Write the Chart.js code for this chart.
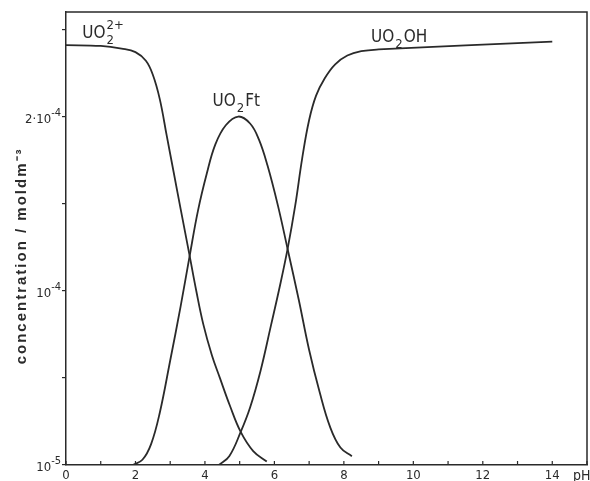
<!DOCTYPE html>
<html>
<head>
<meta charset="utf-8">
<script src="https://cdn.jsdelivr.net/npm/chart.js@4.4.1/dist/chart.umd.min.js"></script>
<style>
  body { margin: 0; background: #fff; }
  canvas { display: block; }
</style>
</head>
<body>
<canvas id="speciesChart" width="590" height="481"></canvas>
<script>
// pH / concentration (units of 1e-4 mol dm-3 on the drawn axis)
const phUO2 = [0, 1.0, 1.6, 2.0, 2.3, 2.5, 2.7, 2.9, 3.1, 3.3, 3.56, 3.75, 3.95, 4.2, 4.43, 4.72, 5.03, 5.39, 5.78];
const concUO2 = [2.41, 2.405, 2.39, 2.37, 2.32, 2.24, 2.10, 1.89, 1.68, 1.47, 1.20, 1.00, 0.81, 0.63, 0.50, 0.34, 0.19, 0.08, 0.02];

const phUO2Ft = [1.92, 2.2, 2.45, 2.7, 3.0, 3.3, 3.56, 3.8, 4.05, 4.3, 4.6, 4.96,
                 5.3, 5.55, 5.8, 6.1, 6.38, 6.7, 7.0, 7.3, 7.6, 7.9, 8.23];
const concUO2Ft = [0, 0.03, 0.12, 0.30, 0.60, 0.91, 1.20, 1.46, 1.67, 1.84, 1.95, 2.00,
                   1.96, 1.87, 1.72, 1.49, 1.24, 0.95, 0.66, 0.42, 0.22, 0.10, 0.05];

const phUO2OH = [4.40, 4.7, 5.03, 5.3, 5.6, 5.9, 6.15, 6.38, 6.6, 6.8, 7.0, 7.2, 7.45, 7.75, 8.1, 8.5, 9.0, 14];
const concUO2OH = [0.0, 0.05, 0.19, 0.33, 0.54, 0.80, 1.02, 1.24, 1.49, 1.76, 1.98, 2.12, 2.22, 2.30, 2.35, 2.375, 2.385, 2.43];

const xTicks = [0, 1, 2, 3, 4, 5, 6, 7, 8, 9, 10, 11, 12, 13, 14, 15];
const xTickLabels = ['0', '', '2', '', '4', '', '6', '', '8', '', '10', '', '12', '', '14', ''];
const yTicks = [0, 0.5, 1, 1.5, 2, 2.5];
const yTickBase = ['10', '', '10', '', '2·10', ''];
const yTickExp = ['-5', '', '-4', '', '-4', ''];

const INK = '#2a2a2a';
const FONT = '"Liberation Sans Narrow", "DejaVu Sans Condensed", "Liberation Sans", sans-serif';

function toPoints(xs, ys) {
    return xs.map((x, i) => ({ x: x, y: ys[i] }));
}

function curve(data) {
    return {
        data: data,
        borderColor: INK,
        borderWidth: 1.8,
        pointRadius: 0,
        fill: false,
        tension: 0.4
    };
}

// chemical formula written piece by piece: normal text, subscripts, superscripts
function drawFormula(ctx, x, y, parts) {
    let cx = x;
    parts.forEach(p => {
        if (p.sub || p.sup) {
            ctx.font = '13px ' + FONT;
            let w = 0;
            if (p.sup) {
                ctx.fillText(p.sup, cx + 1, y - 9);
                w = Math.max(w, ctx.measureText(p.sup).width);
            }
            if (p.sub) {
                ctx.fillText(p.sub, cx + 1, y + 6);
                w = Math.max(w, ctx.measureText(p.sub).width);
            }
            cx += w + 2;
        } else {
            ctx.font = '17px ' + FONT;
            ctx.fillText(p.text, cx, y);
            cx += ctx.measureText(p.text).width;
        }
    });
}

const framePlugin = {
    id: 'frame',
    afterDraw(chart) {
        const { ctx, chartArea: a, scales: { x, y } } = chart;
        ctx.save();
        ctx.strokeStyle = INK;
        ctx.lineWidth = 1.5;
        ctx.beginPath();
        ctx.moveTo(a.left, a.top);
        ctx.lineTo(a.right, a.top);
        ctx.lineTo(a.right, a.bottom);
        ctx.stroke();

        // x ticks point into the plot
        ctx.lineWidth = 1.2;
        ctx.beginPath();
        x.ticks.forEach((t, i) => {
            const px = x.getPixelForTick(i);
            ctx.moveTo(px, a.bottom);
            ctx.lineTo(px, a.bottom - 4);
        });
        ctx.stroke();

        ctx.fillStyle = INK;
        ctx.textBaseline = 'alphabetic';

        // y tick labels with raised exponents
        y.ticks.forEach((t, i) => {
            if (!yTickBase[i]) return;
            const py = y.getPixelForTick(i);
            const right = a.left - 5;
            ctx.font = '11px ' + FONT;
            ctx.textAlign = 'right';
            ctx.fillText(yTickExp[i], right, py - 1);
            const ew = ctx.measureText(yTickExp[i]).width;
            ctx.font = '13px ' + FONT;
            ctx.fillText(yTickBase[i], right - ew, py + 6);
        });

        ctx.textAlign = 'left';
        ctx.font = '14px ' + FONT;
        ctx.fillText('pH', x.getPixelForValue(14.6), a.bottom + 15);

        drawFormula(ctx, x.getPixelForValue(0.47), y.getPixelForValue(2.45),
            [{ text: 'UO' }, { sub: '2', sup: '2+' }]);
        drawFormula(ctx, x.getPixelForValue(4.22), y.getPixelForValue(2.06),
            [{ text: 'UO' }, { sub: '2' }, { text: 'Ft' }]);
        drawFormula(ctx, x.getPixelForValue(8.78), y.getPixelForValue(2.43),
            [{ text: 'UO' }, { sub: '2' }, { text: 'OH' }]);

        // axis title, rotated
        ctx.translate(22, y.getPixelForValue(1.2));
        ctx.rotate(-Math.PI / 2);
        ctx.textAlign = 'center';
        ctx.textBaseline = 'middle';
        ctx.font = 'bold 15px "Liberation Sans", sans-serif';
        ctx.letterSpacing = '2px';
        ctx.fillText('concentration / moldm⁻³', 0, 0);
        ctx.restore();
    }
};

Chart.defaults.font.family = FONT;
Chart.defaults.color = INK;

new Chart(document.getElementById('speciesChart'), {
    type: 'line',
    data: {
        datasets: [
            curve(toPoints(phUO2, concUO2)),
            curve(toPoints(phUO2Ft, concUO2Ft)),
            curve(toPoints(phUO2OH, concUO2OH))
        ]
    },
    options: {
        responsive: false,
        animation: false,
        layout: { padding: { left: 66, right: 3, top: 12, bottom: 0 } },
        plugins: {
            legend: { display: false },
            tooltip: { enabled: false }
        },
        scales: {
            x: {
                type: 'linear',
                min: 0,
                max: 15,
                afterBuildTicks: s => { s.ticks = xTicks.map(v => ({ value: v })); },
                afterFit: s => { s.height = 16; },
                grid: { display: false, drawTicks: false },
                border: { display: true, color: INK, width: 1.5 },
                ticks: {
                    autoSkip: false,
                    maxRotation: 0,
                    padding: 3,
                    font: { size: 13 },
                    callback: (v, i) => xTickLabels[i]
                }
            },
            y: {
                type: 'linear',
                min: 0,
                max: 2.6,
                afterBuildTicks: s => { s.ticks = yTicks.map(v => ({ value: v })); },
                afterFit: s => { s.width = 0; },
                grid: { drawOnChartArea: false, drawTicks: true, tickLength: 4, color: INK, lineWidth: 1.2 },
                border: { display: true, color: INK, width: 1.5 },
                ticks: { display: false }
            }
        }
    },
    plugins: [framePlugin]
});
</script>
</body>
</html>
